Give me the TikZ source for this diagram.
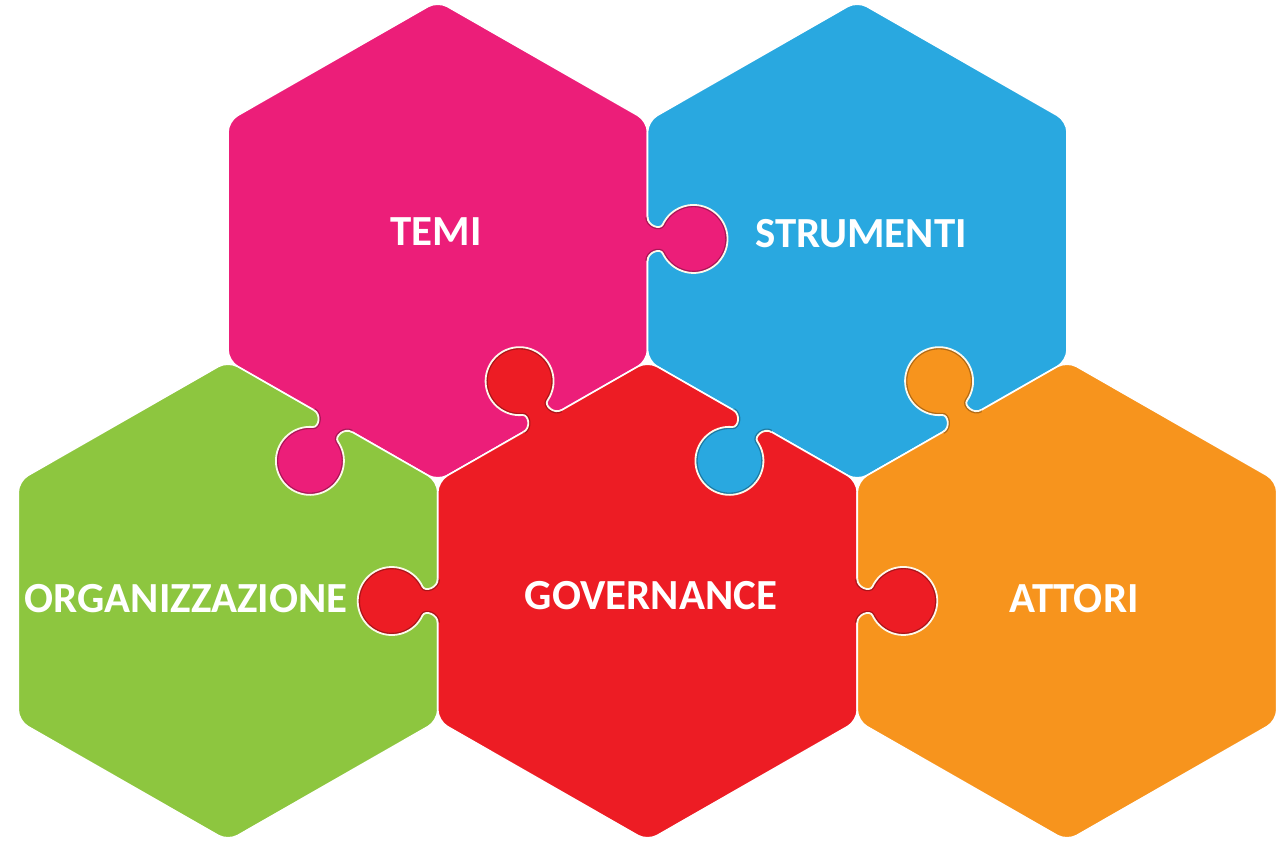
\documentclass[tikz,border=0pt]{standalone}
\usepackage{fontspec}
\setmainfont{Carlito}
\definecolor{cpink}{RGB}{236,30,121}
\definecolor{cblue}{RGB}{41,168,224}
\definecolor{cgreen}{RGB}{141,198,63}
\definecolor{cred}{RGB}{237,28,36}
\definecolor{corange}{RGB}{247,148,29}
\definecolor{seam}{RGB}{253,249,236}
\newcommand\hexagon[3]{%
  \filldraw[#3, draw=white, line width=0.016cm, rounded corners=0.11cm]
    (#1,#2+240) -- (#1+209.75,#2+120) -- (#1+209.75,#2-120) -- (#1,#2-240)
    -- (#1-209.75,#2-120) -- (#1-209.75,#2+120) -- cycle;}
\newcommand\knob[4]{%
  \begin{scope}[shift={(#1,#2)}, rotate=#3]
    \fill[#4] (-22,-3) -- (-22,0) .. controls (-13,0) and (-9,12.7) .. (-14.4,15.2)
      arc[start angle=245, end angle=-65, radius=34]
      .. controls (9,12.7) and (13,0) .. (22,0) -- (22,-3) -- cycle;
    \begin{scope}
      \clip (-22,-3) -- (-22,0) .. controls (-13,0) and (-9,12.7) .. (-14.4,15.2)
        arc[start angle=245, end angle=-65, radius=34]
        .. controls (9,12.7) and (13,0) .. (22,0) -- (22,-3) -- cycle;
      \draw[black, opacity=0.28, line width=0.045cm] (-22,0) .. controls (-13,0) and (-9,12.7) .. (-14.4,15.2)
        arc[start angle=245, end angle=-65, radius=34]
        .. controls (9,12.7) and (13,0) .. (22,0);
    \end{scope}
    \draw[seam, line width=0.018cm] (-22,0) .. controls (-13,0) and (-9,12.7) .. (-14.4,15.2)
      arc[start angle=245, end angle=-65, radius=34]
      .. controls (9,12.7) and (13,0) .. (22,0);
  \end{scope}}
\begin{document}
\begin{tikzpicture}[x=0.01cm, y=0.01cm,
  label/.style={text=white, font=\fontsize{12.2}{14}\selectfont\bfseries, inner sep=0pt}]
\useasboundingbox (0,0) rectangle (1277,840);
% hexagons
\hexagon{437.75}{599}{cpink}
\hexagon{857.25}{599}{cblue}
\hexagon{228}{239}{cgreen}
\hexagon{647.5}{239}{cred}
\hexagon{1067}{239}{corange}
% puzzle tabs
\knob{647.5}{601}{-90}{cpink}
\knob{542.6}{419}{30}{cred}
\knob{332.9}{419}{150}{cpink}
\knob{752.4}{419}{150}{cblue}
\knob{962.1}{419}{30}{corange}
\knob{437.75}{239}{90}{cred}
\knob{857.25}{239}{-90}{cred}
% labels
\node[label] (temi) at (436,608) {TEMI};
\node[label] (strumenti) at (861,606) {STRUMENTI};
\node[label] (organizzazione) at (186,241) {ORGANIZZAZIONE};
\node[label] (governance) at (651,244) {GOVERNANCE};
\node[label] (attori) at (1074,241) {ATTORI};
\end{tikzpicture}
\end{document}
